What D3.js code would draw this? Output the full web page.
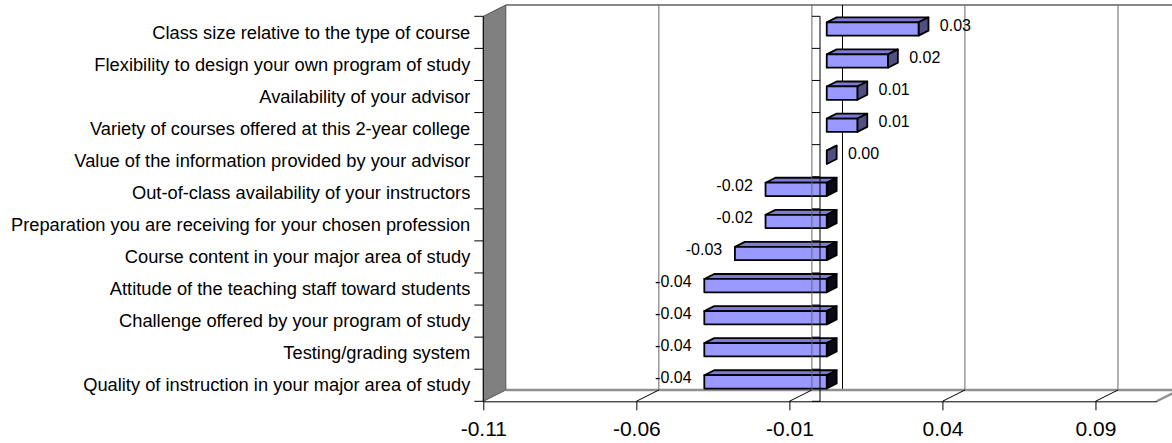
<!DOCTYPE html>
<html>
<head>
<meta charset="utf-8">
<script src="https://cdn.jsdelivr.net/npm/d3@7"></script>
<style>
  html, body { margin: 0; padding: 0; background: #fff; }
  svg { display: block; font-family: "Liberation Sans", Arial, sans-serif; }
</style>
</head>
<body>
<svg id="chart" width="1172" height="443"></svg>
<script>
// Survey items, top to bottom
const categories = [
  "Class size relative to the type of course",
  "Flexibility to design your own program of study",
  "Availability of your advisor",
  "Variety of courses offered at this 2-year college",
  "Value of the information provided by your advisor",
  "Out-of-class availability of your instructors",
  "Preparation you are receiving for your chosen profession",
  "Course content in your major area of study",
  "Attitude of the teaching staff toward students",
  "Challenge offered by your program of study",
  "Testing/grading system",
  "Quality of instruction in your major area of study"
];
const values = [0.03, 0.02, 0.01, 0.01, 0.00, -0.02, -0.02, -0.03, -0.04, -0.04, -0.04, -0.04];
const xDomain = [-0.11, 0.11];
const xTicks = [-0.11, -0.06, -0.01, 0.04, 0.09];

const W = 1172, H = 443;
const plot = { left: 483.3, right: 1156.7, top: 16.3, bottom: 401.3 };
const DX = 22.5, DY = -11.3;          // depth offset front -> back plane
const F0 = 0.30, F1 = 0.74;           // bar front / back depth fractions
const BAR_FRAC = 0.415;               // bar thickness relative to band

const locale = d3.formatLocale({ decimal: ".", thousands: ",", grouping: [3], currency: ["$", ""], minus: "-" });
const fmt = locale.format(".2f");

const svg = d3.select("#chart");
const x = d3.scaleLinear().domain(xDomain).range([plot.left, plot.right]);
const y = d3.scaleBand().domain(categories).range([plot.top, plot.bottom]);

svg.append("rect").attr("width", W).attr("height", H).attr("fill", "#fff");

// back wall
svg.append("rect")
  .attr("x", plot.left + DX).attr("y", plot.top + DY)
  .attr("width", plot.right - plot.left).attr("height", plot.bottom - plot.top)
  .attr("fill", "#fff");
svg.append("line")
  .attr("x1", plot.left + DX).attr("x2", plot.right + DX)
  .attr("y1", plot.top + DY).attr("y2", plot.top + DY)
  .attr("stroke", "#888").attr("stroke-width", 2.2);

// zero line on back wall
svg.append("line")
  .attr("x1", x(0) + DX).attr("x2", x(0) + DX)
  .attr("y1", plot.top + DY).attr("y2", plot.bottom + DY)
  .attr("stroke", "#000").attr("stroke-width", 1);

// floor
svg.append("polygon")
  .attr("points", [
    [plot.left, plot.bottom], [plot.right, plot.bottom],
    [plot.right + DX, plot.bottom + DY], [plot.left + DX, plot.bottom + DY]
  ].map(p => p.join(",")).join(" "))
  .attr("fill", "#fff");
svg.append("polyline")
  .attr("points", [
    [plot.left + DX, plot.bottom + DY], [plot.right + DX, plot.bottom + DY],
    [plot.right, plot.bottom]
  ].map(p => p.join(",")).join(" "))
  .attr("fill", "none").attr("stroke", "#909090").attr("stroke-width", 2.4);

// left side wall
svg.append("polygon")
  .attr("points", [
    [plot.left, plot.top], [plot.left + DX, plot.top + DY],
    [plot.left + DX, plot.bottom + DY], [plot.left, plot.bottom]
  ].map(p => p.join(",")).join(" "))
  .attr("fill", "#808080").attr("stroke", "#555").attr("stroke-width", 1);

// floor grid diagonals
svg.append("g").selectAll("line")
  .data(xTicks.slice(1))
  .join("line")
  .attr("x1", d => x(d)).attr("y1", plot.bottom)
  .attr("x2", d => x(d) + DX).attr("y2", plot.bottom + DY)
  .attr("stroke", "#000").attr("stroke-width", 1);

// bars
const bars = svg.append("g");
categories.forEach((c, i) => {
  const v = values[i];
  const cy = y(c) + y.bandwidth() / 2;
  const h = y.bandwidth() * BAR_FRAC;
  const xa = x(0) + DX * F0, xb = x(v) + DX * F0;
  const xl = Math.min(xa, xb), xr = Math.max(xa, xb);
  const yt = cy + DY * F0 - h / 2, yb = yt + h;
  const bdx = DX * (F1 - F0), bdy = DY * (F1 - F0);
  const pts = a => a.map(p => p.join(",")).join(" ");
  const g = bars.append("g")
    .attr("stroke", "#000").attr("stroke-width", 1.8).attr("stroke-linejoin", "round");
  g.append("polygon")
    .attr("points", pts([[xl, yt], [xr, yt], [xr + bdx, yt + bdy], [xl + bdx, yt + bdy]]))
    .attr("fill", "#7c7cd6");
  g.append("polygon")
    .attr("points", pts([[xr, yt], [xr + bdx, yt + bdy], [xr + bdx, yb + bdy], [xr, yb]]))
    .attr("fill", v >= 0 ? "#4f4f82" : "#0a0a14");
  if (xr - xl > 0.5) {
    g.append("rect")
      .attr("x", xl).attr("y", yt).attr("width", xr - xl).attr("height", h)
      .attr("fill", "#9999ff");
  }
});

// back-wall gridlines
svg.append("g").selectAll("line")
  .data(xTicks.slice(1))
  .join("line")
  .attr("x1", d => x(d) + DX).attr("x2", d => x(d) + DX)
  .attr("y1", plot.top + DY).attr("y2", plot.bottom + DY)
  .attr("stroke", "#666").attr("stroke-width", 1);

// category boundaries
const bounds = categories.map(c => y(c)).concat([plot.bottom]);

// zero axis in front plane with ticks
svg.append("line")
  .attr("x1", x(0)).attr("x2", x(0))
  .attr("y1", plot.top).attr("y2", plot.bottom)
  .attr("stroke", "#000").attr("stroke-width", 1);
svg.append("g").selectAll("line")
  .data(bounds)
  .join("line")
  .attr("x1", x(0) - 8).attr("x2", x(0))
  .attr("y1", d => d).attr("y2", d => d)
  .attr("stroke", "#000").attr("stroke-width", 1);

// category axis on the left
svg.append("line")
  .attr("x1", plot.left).attr("x2", plot.left)
  .attr("y1", plot.top).attr("y2", plot.bottom)
  .attr("stroke", "#000").attr("stroke-width", 1);
svg.append("g").selectAll("line")
  .data(bounds)
  .join("line")
  .attr("x1", plot.left - 9).attr("x2", plot.left)
  .attr("y1", d => d).attr("y2", d => d)
  .attr("stroke", "#000").attr("stroke-width", 1);
svg.append("g").selectAll("text")
  .data(categories)
  .join("text")
  .attr("x", plot.left - 13)
  .attr("y", d => y(d) + y.bandwidth() / 2 + 6.2)
  .attr("text-anchor", "end")
  .attr("font-size", "18.3px")
  .attr("fill", "#000")
  .text(d => d);

// value axis
const xAxis = svg.append("g")
  .attr("transform", `translate(0,${plot.bottom})`)
  .call(d3.axisBottom(x).tickValues(xTicks).tickFormat(fmt).tickSize(9).tickSizeOuter(0).tickPadding(11));
xAxis.select(".domain").attr("stroke", "#000");
xAxis.selectAll(".tick line").attr("stroke", "#000");
xAxis.selectAll("text")
  .attr("font-size", "21px")
  .attr("font-family", "Liberation Sans, Arial, sans-serif")
  .attr("fill", "#000");

// data labels
svg.append("g").selectAll("text")
  .data(categories)
  .join("text")
  .attr("x", (d, i) => values[i] >= 0 ? x(values[i]) + 28 : x(values[i]) - 6)
  .attr("y", d => y(d) + y.bandwidth() / 2 - 1.8)
  .attr("text-anchor", (d, i) => values[i] >= 0 ? "start" : "end")
  .attr("font-size", "16px")
  .attr("fill", "#000")
  .text((d, i) => fmt(values[i]));
</script>
</body>
</html>
